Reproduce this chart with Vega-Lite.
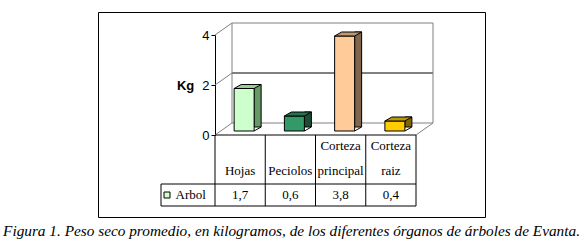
{
  "$schema": "https://vega.github.io/schema/vega-lite/v6.json",
  "width": 387,
  "height": 205,
  "autosize": {"type": "none"},
  "padding": {"left": 98, "top": 12, "right": 95, "bottom": 33},
  "background": "white",
  "config": {
    "view": {"stroke": "black", "strokeWidth": 1},
    "locale": {"number": {"decimal": ",", "thousands": ".", "grouping": [3], "currency": ["", " €"]}},
    "axis": {"grid": false}
  },
  "title": {
    "text": "Figura 1. Peso seco promedio, en kilogramos, de los diferentes órganos de árboles de Evanta.",
    "orient": "bottom", "anchor": "middle", "font": "Liberation Serif", "fontSize": 15.3,
    "fontStyle": "italic", "fontWeight": "normal", "color": "black", "baseline": "alphabetic", "offset": 19
  },
  "datasets": {
    "organos": [
      {"organo": "Hojas", "serie": "Arbol", "peso": 1.7},
      {"organo": "Peciolos", "serie": "Arbol", "peso": 0.6},
      {"organo": "Corteza principal", "serie": "Arbol", "peso": 3.8},
      {"organo": "Corteza raiz", "serie": "Arbol", "peso": 0.4}
    ],
    "niveles": [{"kg": 0}, {"kg": 2}, {"kg": 4}]
  },
  "data": {"name": "organos"},
  "layer": [
    {
      "data": {"name": "niveles"},
      "mark": {"type": "rule", "xOffset": 17, "x2Offset": 17, "yOffset": -12, "strokeWidth": 1},
      "encoding": {
        "x": {"datum": "Hojas", "bandPosition": 0, "axis": null,
              "scale": {"type": "band", "domain": ["Hojas", "Peciolos", "Corteza principal", "Corteza raiz"], "range": [117, 318], "paddingInner": 0, "paddingOuter": 0}},
        "x2": {"datum": "Corteza raiz", "bandPosition": 1},
        "y": {"field": "kg", "type": "quantitative",
              "scale": {"type": "linear", "domain": [0, 4], "range": [123, 23], "nice": false, "zero": false},
              "axis": {"orient": "left", "offset": -117, "values": [0, 2, 4], "title": "Kg", "titleAngle": 0,
                       "titleAlign": "right", "titleBaseline": "middle", "titleFont": "Liberation Sans", "titleFontSize": 13,
                       "titleFontWeight": "bold", "titleColor": "black", "titlePadding": 8,
                       "labelFont": "Liberation Sans", "labelFontSize": 13, "labelColor": "black", "labelPadding": 2,
                       "tickSize": 4, "tickColor": "black", "domainColor": "black", "grid": false}},
        "stroke": {"condition": {"test": "datum.kg == 2", "value": "black"}, "value": "#808080"}
      }
    },
    {
      "data": {"name": "niveles"},
      "transform": [{"filter": "datum.kg == 0"}],
      "mark": {"type": "rule", "xOffset": 17, "yOffset": -12, "y2Offset": -12, "stroke": "#808080"},
      "encoding": {
        "x": {"datum": "Hojas", "bandPosition": 0, "axis": null},
        "y": {"field": "kg", "type": "quantitative", "axis": null, "scale": {"type": "linear", "domain": [0, 4], "range": [123, 23], "nice": false, "zero": false}},
        "y2": {"datum": 4}
      }
    },
    {
      "data": {"name": "niveles"},
      "transform": [{"filter": "datum.kg == 0"}],
      "mark": {"type": "rule", "xOffset": 17, "yOffset": -12, "y2Offset": -12, "stroke": "#808080"},
      "encoding": {
        "x": {"datum": "Corteza raiz", "bandPosition": 1, "axis": null},
        "y": {"field": "kg", "type": "quantitative", "axis": null, "scale": {"type": "linear", "domain": [0, 4], "range": [123, 23], "nice": false, "zero": false}},
        "y2": {"datum": 4}
      }
    },
    {
      "data": {"name": "niveles"},
      "mark": {"type": "rule", "x2Offset": 17, "y2Offset": -12, "stroke": "#808080"},
      "encoding": {
        "x": {"datum": "Hojas", "bandPosition": 0, "axis": null},
        "x2": {"datum": "Hojas", "bandPosition": 0},
        "y": {"field": "kg", "type": "quantitative", "axis": null, "scale": {"type": "linear", "domain": [0, 4], "range": [123, 23], "nice": false, "zero": false}},
        "y2": {"field": "kg"}
      }
    },
    {
      "data": {"name": "niveles"},
      "transform": [{"filter": "datum.kg == 0"}],
      "mark": {"type": "rule", "x2Offset": 17, "y2Offset": -12, "stroke": "#808080"},
      "encoding": {
        "x": {"datum": "Corteza raiz", "bandPosition": 1, "axis": null},
        "x2": {"datum": "Corteza raiz", "bandPosition": 1},
        "y": {"field": "kg", "type": "quantitative", "axis": null, "scale": {"type": "linear", "domain": [0, 4], "range": [123, 23], "nice": false, "zero": false}},
        "y2": {"field": "kg"}
      }
    },
    {
      "data": {"name": "niveles"},
      "transform": [{"filter": "datum.kg == 0"}],
      "mark": {"type": "rule", "stroke": "black", "strokeWidth": 1},
      "encoding": {
        "x": {"datum": "Hojas", "bandPosition": 0, "axis": null},
        "x2": {"datum": "Corteza raiz", "bandPosition": 1},
        "y": {"field": "kg", "type": "quantitative", "axis": null, "scale": {"type": "linear", "domain": [0, 4], "range": [123, 23], "nice": false, "zero": false}}
      }
    },
    {
      "mark": {"type": "bar", "width": 7, "xOffset": 17.5, "yOffset": -8, "y2Offset": -4, "stroke": "black", "strokeWidth": 1},
      "encoding": {
        "x": {"field": "organo", "type": "nominal", "axis": null},
        "y": {"field": "peso", "type": "quantitative", "axis": null, "scale": {"type": "linear", "domain": [0, 4], "range": [123, 23], "nice": false, "zero": false}},
        "fill": {"field": "organo", "type": "nominal", "legend": null,
                 "scale": {"domain": ["Hojas", "Peciolos", "Corteza principal", "Corteza raiz"], "range": ["#669966", "#1A4D33", "#80664D", "#806600"]}}
      }
    },
    {
      "mark": {"type": "point", "shape": "M 14.5 0.8 L 22 0.8 L 22 -4 Z", "size": 4, "filled": true, "fill": "white", "strokeWidth": 0, "opacity": 1, "yOffset": -4},
      "encoding": {
        "x": {"field": "organo", "type": "nominal", "axis": null},
        "y": {"datum": 0, "axis": null, "scale": {"type": "linear", "domain": [0, 4], "range": [123, 23], "nice": false, "zero": false}}
      }
    },
    {
      "mark": {"type": "point", "shape": "M 14 0 L 21 -4", "size": 4, "filled": false, "stroke": "black", "strokeWidth": 1, "opacity": 1, "yOffset": -4},
      "encoding": {
        "x": {"field": "organo", "type": "nominal", "axis": null},
        "y": {"datum": 0, "axis": null, "scale": {"type": "linear", "domain": [0, 4], "range": [123, 23], "nice": false, "zero": false}}
      }
    },
    {
      "mark": {"type": "bar", "width": 20, "xOffset": 4, "yOffset": -4, "y2Offset": -4, "stroke": "black", "strokeWidth": 1},
      "encoding": {
        "x": {"field": "organo", "type": "nominal", "axis": null},
        "y": {"field": "peso", "type": "quantitative", "axis": null, "scale": {"type": "linear", "domain": [0, 4], "range": [123, 23], "nice": false, "zero": false}},
        "fill": {"field": "organo", "type": "nominal", "legend": null,
                 "scale": {"domain": ["Hojas", "Peciolos", "Corteza principal", "Corteza raiz"], "range": ["#CCFFCC", "#339966", "#FFCC99", "#FFCC00"]}}
      }
    },
    {
      "mark": {"type": "point", "shape": "M -6 0 L 1 -4 L 21 -4 L 14 0 Z", "size": 4, "filled": true, "stroke": "black", "strokeWidth": 1, "opacity": 1, "yOffset": -4},
      "encoding": {
        "x": {"field": "organo", "type": "nominal", "axis": null},
        "y": {"field": "peso", "type": "quantitative", "axis": null, "scale": {"type": "linear", "domain": [0, 4], "range": [123, 23], "nice": false, "zero": false}},
        "fill": {"field": "organo", "type": "nominal", "legend": null,
                 "scale": {"domain": ["Hojas", "Peciolos", "Corteza principal", "Corteza raiz"], "range": ["#99CC99", "#26734D", "#BF9973", "#BF9900"]}}
      }
    },
    {
      "transform": [{"filter": "indexof(datum.organo, ' ') < 0"}],
      "mark": {"type": "text", "font": "Liberation Serif", "fontSize": 13, "color": "black", "baseline": "bottom", "dy": -6},
      "encoding": {
        "x": {"field": "organo", "type": "nominal", "axis": null},
        "y": {"field": "serie", "type": "nominal", "bandPosition": 0, "axis": null, "scale": {"type": "band", "domain": ["Arbol"], "range": [172, 194], "paddingInner": 0, "paddingOuter": 0}},
        "text": {"field": "organo", "type": "nominal"}
      }
    },
    {
      "transform": [{"filter": "indexof(datum.organo, ' ') >= 0"}],
      "mark": {"type": "text", "font": "Liberation Serif", "fontSize": 13, "color": "black", "baseline": "bottom", "lineBreak": " ", "lineHeight": 25, "dy": -31},
      "encoding": {
        "x": {"field": "organo", "type": "nominal", "axis": null},
        "y": {"field": "serie", "type": "nominal", "bandPosition": 0, "axis": null, "scale": {"type": "band", "domain": ["Arbol"], "range": [172, 194], "paddingInner": 0, "paddingOuter": 0}},
        "text": {"field": "organo", "type": "nominal"}
      }
    },
    {
      "mark": {"type": "text", "font": "Liberation Serif", "fontSize": 13, "color": "black", "baseline": "alphabetic", "dy": 4},
      "encoding": {
        "x": {"field": "organo", "type": "nominal", "axis": null},
        "y": {"field": "serie", "type": "nominal", "axis": null, "scale": {"type": "band", "domain": ["Arbol"], "range": [172, 194], "paddingInner": 0, "paddingOuter": 0}},
        "text": {"field": "peso", "type": "quantitative", "format": ".1f"}
      }
    },
    {
      "mark": {"type": "rule", "yOffset": -49, "color": "black", "strokeWidth": 1},
      "encoding": {
        "x": {"field": "organo", "type": "nominal", "bandPosition": 0, "axis": null},
        "y": {"field": "serie", "type": "nominal", "bandPosition": 0, "axis": null, "scale": {"type": "band", "domain": ["Arbol"], "range": [172, 194], "paddingInner": 0, "paddingOuter": 0}},
        "y2": {"field": "serie", "bandPosition": 1}
      }
    },
    {
      "transform": [{"aggregate": [{"op": "count", "as": "n"}], "groupby": ["serie"]}],
      "mark": {"type": "rule", "yOffset": -49, "color": "black", "strokeWidth": 1},
      "encoding": {
        "x": {"datum": "Corteza raiz", "bandPosition": 1, "axis": null},
        "y": {"field": "serie", "type": "nominal", "bandPosition": 0, "axis": null, "scale": {"type": "band", "domain": ["Arbol"], "range": [172, 194], "paddingInner": 0, "paddingOuter": 0}},
        "y2": {"field": "serie", "bandPosition": 1}
      }
    },
    {
      "transform": [{"aggregate": [{"op": "count", "as": "n"}], "groupby": ["serie"]}],
      "mark": {"type": "rule", "xOffset": -54, "color": "black", "strokeWidth": 1},
      "encoding": {
        "x": {"datum": "Hojas", "bandPosition": 0, "axis": null},
        "x2": {"datum": "Corteza raiz", "bandPosition": 1},
        "y": {"field": "serie", "type": "nominal", "bandPosition": 0, "axis": null, "scale": {"type": "band", "domain": ["Arbol"], "range": [172, 194], "paddingInner": 0, "paddingOuter": 0}}
      }
    },
    {
      "transform": [{"aggregate": [{"op": "count", "as": "n"}], "groupby": ["serie"]}],
      "mark": {"type": "rule", "xOffset": -54, "color": "black", "strokeWidth": 1},
      "encoding": {
        "x": {"datum": "Hojas", "bandPosition": 0, "axis": null},
        "x2": {"datum": "Corteza raiz", "bandPosition": 1},
        "y": {"field": "serie", "type": "nominal", "bandPosition": 1, "axis": null, "scale": {"type": "band", "domain": ["Arbol"], "range": [172, 194], "paddingInner": 0, "paddingOuter": 0}}
      }
    },
    {
      "transform": [{"aggregate": [{"op": "count", "as": "n"}], "groupby": ["serie"]}],
      "mark": {"type": "rule", "xOffset": -54, "color": "black", "strokeWidth": 1},
      "encoding": {
        "x": {"datum": "Hojas", "bandPosition": 0, "axis": null},
        "y": {"field": "serie", "type": "nominal", "bandPosition": 0, "axis": null, "scale": {"type": "band", "domain": ["Arbol"], "range": [172, 194], "paddingInner": 0, "paddingOuter": 0}},
        "y2": {"field": "serie", "bandPosition": 1}
      }
    },
    {
      "transform": [{"aggregate": [{"op": "count", "as": "n"}], "groupby": ["serie"]}],
      "mark": {"type": "point", "shape": "square", "size": 36, "filled": true, "fill": "#CCFFCC", "stroke": "black", "strokeWidth": 1, "opacity": 1, "xOffset": -48},
      "encoding": {
        "x": {"datum": "Hojas", "bandPosition": 0, "axis": null},
        "y": {"field": "serie", "type": "nominal", "axis": null, "scale": {"type": "band", "domain": ["Arbol"], "range": [172, 194], "paddingInner": 0, "paddingOuter": 0}}
      }
    },
    {
      "transform": [{"aggregate": [{"op": "count", "as": "n"}], "groupby": ["serie"]}],
      "mark": {"type": "text", "align": "left", "xOffset": -39.5, "font": "Liberation Serif", "fontSize": 13, "color": "black", "baseline": "alphabetic", "dy": 4},
      "encoding": {
        "x": {"datum": "Hojas", "bandPosition": 0, "axis": null},
        "y": {"field": "serie", "type": "nominal", "axis": null, "scale": {"type": "band", "domain": ["Arbol"], "range": [172, 194], "paddingInner": 0, "paddingOuter": 0}},
        "text": {"field": "serie", "type": "nominal"}
      }
    }
  ],
  "resolve": {"scale": {"y": "independent", "fill": "independent"}}
}
